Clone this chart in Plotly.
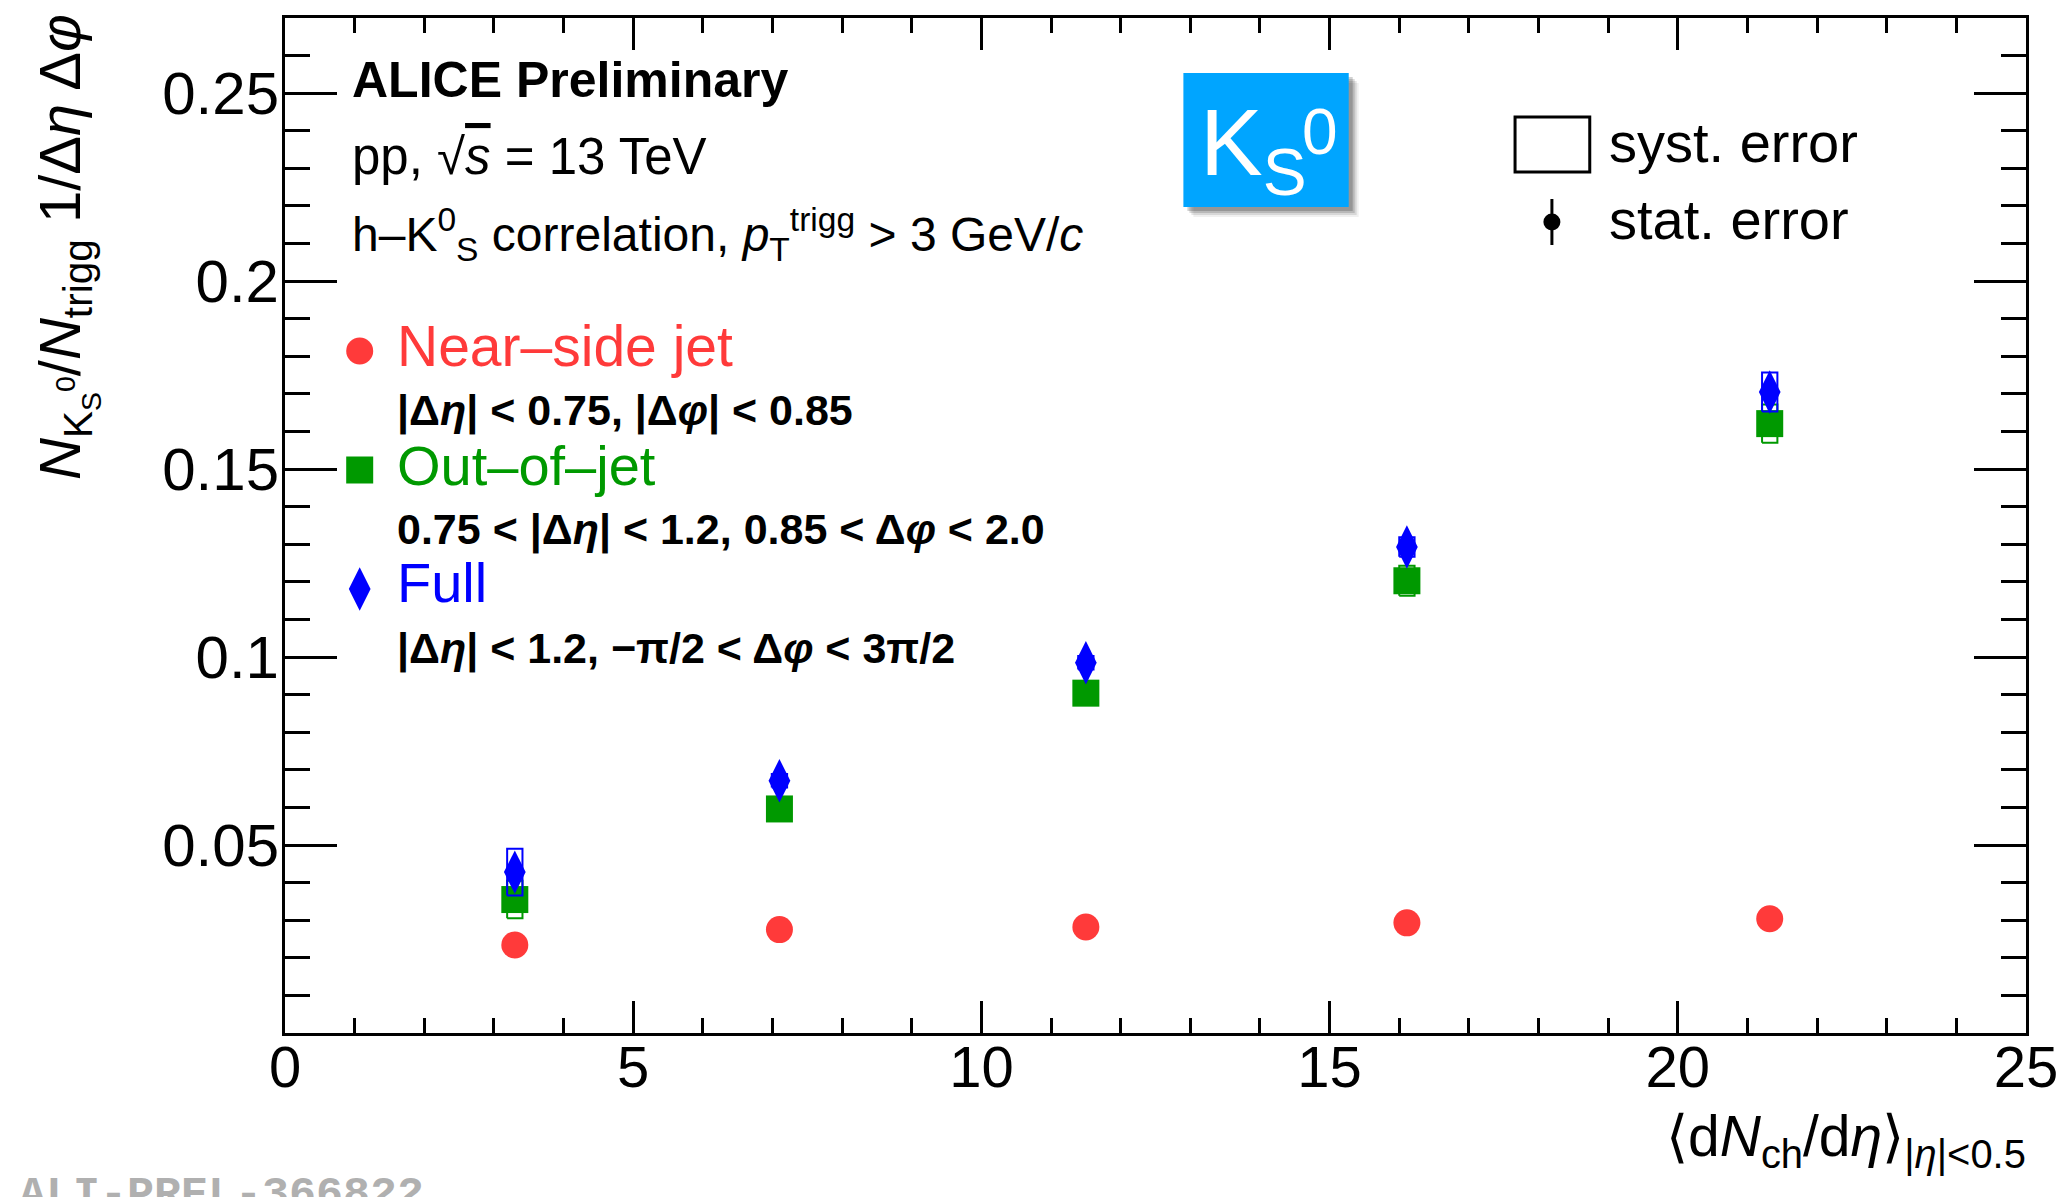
import plotly.graph_objects as go

# ---------------- data ----------------
dndeta = [3.30, 7.10, 11.50, 16.11, 21.32]

near_y = [0.0234, 0.0275, 0.0282, 0.0293, 0.0304]
near_stat = [0.0015, 0.0008, 0.0008, 0.0008, 0.0008]
near_syst = [0.0015, 0.0012, 0.0012, 0.0012, 0.0012]

out_y = [0.0355, 0.0596, 0.0904, 0.1203, 0.1621]
out_stat = [0.0020, 0.0010, 0.0010, 0.0012, 0.0015]
out_syst = [0.0050, 0.0030, 0.0030, 0.0040, 0.0051]

full_y = [0.0428, 0.0671, 0.0985, 0.1293, 0.1705]
full_stat = [0.0025, 0.0012, 0.0012, 0.0015, 0.0025]
full_syst = [0.0062, 0.0018, 0.0018, 0.0026, 0.0052]

x_ticks = [0, 5, 10, 15, 20, 25]
y_ticks = [0.05, 0.10, 0.15, 0.20, 0.25]
y_ticktext = ["0.05", "0.1", "0.15", "0.2", "0.25"]

# ---------------- style ----------------
RED = "#ff3a3a"
GREEN = "#009900"
BLUE = "#0000ff"
FONT = "Liberation Sans, Arial, Helvetica, sans-serif"
W, H = 2070, 1197
L, R, T, B = 285, 2033, 18, 1033
BOX_HW = 0.11

def px(X):
    return (X - L) / (R - L)

def py(Y):
    return (B - Y) / (B - T)

fig = go.Figure()

def add_series(y, stat, syst, color, symbol, size):
    bx, by = [], []
    for xi, yi, si in zip(dndeta, y, syst):
        bx += [xi - BOX_HW, xi + BOX_HW, xi + BOX_HW, xi - BOX_HW, xi - BOX_HW, None]
        by += [yi - si, yi - si, yi + si, yi + si, yi - si, None]
    fig.add_trace(go.Scatter(x=bx, y=by, mode="lines",
                             line=dict(color=color, width=2),
                             showlegend=False, hoverinfo="skip"))
    fig.add_trace(go.Scatter(x=dndeta, y=y, mode="markers",
                             marker=dict(color=color, symbol=symbol, size=size,
                                         line=dict(width=0)),
                             error_y=dict(type="data", array=stat, color=color,
                                          thickness=3, width=0),
                             showlegend=False))

add_series(near_y, near_stat, near_syst, RED, "circle", 27)
add_series(out_y, out_stat, out_syst, GREEN, "square", 27)
add_series(full_y, full_stat, full_syst, BLUE, "diamond-tall", 31)

# legend glyphs on a pixel-coordinate overlay axis
fig.add_trace(go.Scatter(x=[360], y=[351], mode="markers", xaxis="x2", yaxis="y2",
                         marker=dict(color=RED, symbol="circle", size=27),
                         showlegend=False, hoverinfo="skip"))
fig.add_trace(go.Scatter(x=[360], y=[470], mode="markers", xaxis="x2", yaxis="y2",
                         marker=dict(color=GREEN, symbol="square", size=27),
                         showlegend=False, hoverinfo="skip"))
fig.add_trace(go.Scatter(x=[360], y=[589], mode="markers", xaxis="x2", yaxis="y2",
                         marker=dict(color=BLUE, symbol="diamond-tall", size=31),
                         showlegend=False, hoverinfo="skip"))
fig.add_trace(go.Scatter(x=[1557], y=[222], mode="markers", xaxis="x2", yaxis="y2",
                         marker=dict(color="black", symbol="circle", size=17),
                         error_y=dict(type="data", array=[23], color="black",
                                      thickness=3, width=0),
                         showlegend=False, hoverinfo="skip"))

shapes = []
# shadow + K0s box
for off, op in [(10, 0.06), (8, 0.10), (6, 0.14), (4, 0.18)]:
    shapes.append(dict(type="rect", xref="paper", yref="paper",
                       x0=px(1187 + off), x1=px(1353 + off), y0=py(73 + off), y1=py(207 + off),
                       fillcolor=f"rgba(0,0,0,{op})", line=dict(width=0), layer="above"))
shapes.append(dict(type="rect", xref="paper", yref="paper",
                   x0=px(1187), x1=px(1353), y0=py(73), y1=py(207),
                   fillcolor="rgb(0,165,255)", line=dict(width=0), layer="above"))
# syst legend box
shapes.append(dict(type="rect", xref="paper", yref="paper",
                   x0=px(1520), x1=px(1595), y0=py(117), y1=py(172),
                   fillcolor="rgba(0,0,0,0)", line=dict(color="black", width=3)))

ann = []
def text(X, Y, s, size, color="black", xanchor="left", yanchor="middle", **kw):
    ann.append(dict(x=px(X), y=py(Y), xref="paper", yref="paper", text=s,
                    showarrow=False, xanchor=xanchor, yanchor=yanchor,
                    font=dict(family=FONT, size=size, color=color), **kw))

text(350, 80, "<b>ALICE Preliminary</b>", 50)
text(350, 156, "pp, √<span style='text-decoration:overline'><i>s</i></span> = 13 TeV", 51)
text(350, 235, "h–K<sup>0</sup><sub>S</sub> correlation, <i>p</i><sub>T</sub><sup>trigg</sup> &gt; 3 GeV/<i>c</i>", 48)
text(395, 346, "Near–side jet", 57, RED)
text(395, 411, "<b>|Δ<i>η</i>| &lt; 0.75, |Δ<i>φ</i>| &lt; 0.85</b>", 43)
text(395, 465, "Out–of–jet", 56, GREEN)
text(395, 529, "<b>0.75 &lt; |Δ<i>η</i>| &lt; 1.2, 0.85 &lt; Δ<i>φ</i> &lt; 2.0</b>", 43)
text(395, 582, "Full", 56, BLUE)
text(395, 648, "<b>|Δ<i>η</i>| &lt; 1.2, −π/2 &lt; Δ<i>φ</i> &lt; 3π/2</b>", 43)
text(1612, 143, "syst. error", 56)
text(1612, 219, "stat. error", 56)
text(1202, 150, "K<sub>S</sub>", 94, "white")
text(1324, 132, "0", 64, "white", xanchor="center")
text(2035, 1140, "⟨d<i>N</i><sub>ch</sub>/d<i>η</i>⟩<sub>|<i>η</i>|&lt;0.5</sub>", 57,
     xanchor="right")
text(66, 12, "<i>N</i><sub>K<sub>S</sub><sup>0</sup></sub>/<i>N</i><sub>trigg</sub> 1/Δ<i>η</i> Δ<i>φ</i>",
     58, xanchor="center", yanchor="top", textangle=-90)
ann.append(dict(x=px(16), y=py(1168), xref="paper", yref="paper",
                text="<b>ALI-PREL-366822</b>", showarrow=False,
                xanchor="left", yanchor="top",
                font=dict(family="Liberation Mono, Courier New, monospace", size=45,
                          color="#b0b0b0")))

axis_common = dict(showline=True, linecolor="black", linewidth=3, mirror="ticks",
                   ticks="inside", tickcolor="black", tickwidth=3,
                   showgrid=False, zeroline=False)

fig.update_layout(
    width=W, height=H, autosize=False,
    margin=dict(l=L, r=W - R, t=T, b=H - B),
    paper_bgcolor="white", plot_bgcolor="white",
    xaxis=dict(range=[0, 25], tickmode="array", tickvals=x_ticks,
               ticktext=[str(v) for v in x_ticks], ticklen=32,
               minor=dict(tickmode="linear", tick0=0, dtick=1, ticks="inside",
                          ticklen=15, tickwidth=3, tickcolor="black"),
               tickfont=dict(family=FONT, size=58, color="black"),
               ticklabelstandoff=-19, **axis_common),
    yaxis=dict(range=[0, 0.27], tickmode="array", tickvals=y_ticks,
               ticktext=y_ticktext, ticklen=52,
               minor=dict(tickmode="linear", tick0=0, dtick=0.01, ticks="inside",
                          ticklen=25, tickwidth=3, tickcolor="black"),
               tickfont=dict(family=FONT, size=60, color="black"),
               ticklabelstandoff=-9, **axis_common),
    xaxis2=dict(overlaying="x", range=[L, R], visible=False, fixedrange=True),
    yaxis2=dict(overlaying="y", range=[B, T], visible=False, fixedrange=True),
    shapes=shapes, annotations=ann, showlegend=False,
)

fig.write_html("out.html")
